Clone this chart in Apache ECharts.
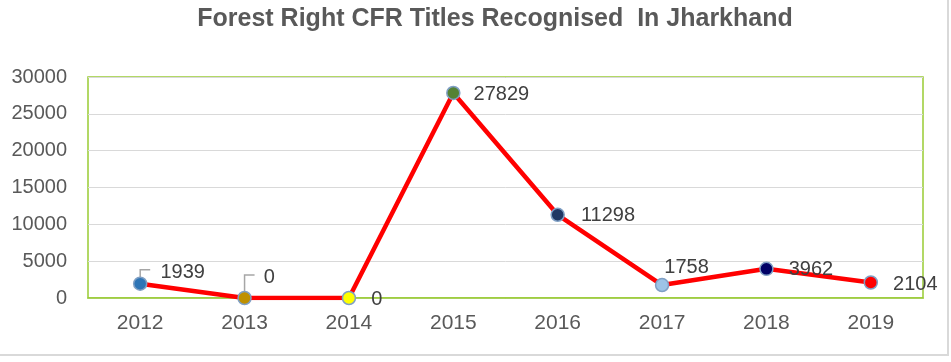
<!DOCTYPE html>
<html><head><meta charset="utf-8">
<script src="https://cdn.jsdelivr.net/npm/echarts@6/dist/echarts.min.js"></script>
<style>html,body{margin:0;padding:0;background:#fff}#c{width:951px;height:362px}</style>
</head><body><div id="c"></div>
<script>
var years = ['2012','2013','2014','2015','2016','2017','2018','2019'];
var cfrTitles = [1939, 0, 0, 27829, 11298, 1758, 3962, 2104];
var yTicks = [0, 5000, 10000, 15000, 20000, 25000, 30000];
var titleText = 'Forest Right CFR Titles Recognised  In Jharkhand';

var markerColors = ['#2e75b6','#bf9000','#ffff00','#548235','#203864','#9dc3e6','#000066','#ff0000'];
var labelShift = [[13,-11],[12,-21],[15,1],[13,1],[16,1],[-5,-18],[15,1],[15,2]];
var leaderRise = [14, 23, 0, 0, 0, 0, 0, 0];

var chart = echarts.init(document.getElementById('c'));
var data = cfrTitles.map(function(v, i){
  return {
    value: v,
    itemStyle: {color: markerColors[i], borderColor: '#7f9fc4', borderWidth: 1.5},
    label: {offset: labelShift[i]}
  };
});
var leaderData = [];
cfrTitles.forEach(function(v, i){ if (leaderRise[i]) leaderData.push([i, v, leaderRise[i]]); });

chart.setOption({
  animation: false,
  backgroundColor: '#fff',
  graphic: [
    {type:'rect', shape:{x:-5,y:-5,width:953,height:360}, style:{fill:'none', stroke:'#d9d9d9', lineWidth:2}, z:-1},
    {type:'text', x:495, y:19, style:{text:titleText, font:'bold 25px "Liberation Sans", Arial, sans-serif', fill:'#595959', textAlign:'center', textVerticalAlign:'middle'}}
  ],
  grid: {left:88, right:28, top:77, bottom:64, show:true, borderColor:'#99cc33', borderWidth:1.5, backgroundColor:'#fff'},
  xAxis: {
    type:'category', data: years, boundaryGap:true,
    axisLine:{lineStyle:{color:'#99cc33', width:1.5}},
    axisTick:{show:false},
    axisLabel:{color:'#595959', fontSize:21, fontFamily:'"Liberation Sans", Arial', margin:15}
  },
  yAxis: {
    type:'value', min: yTicks[0], max: yTicks[yTicks.length-1], interval: yTicks[1]-yTicks[0],
    axisLine:{show:false}, axisTick:{show:false},
    splitLine:{lineStyle:{color:'#d9d9d9', width:1}},
    axisLabel:{color:'#595959', fontSize:20, fontFamily:'"Liberation Sans", Arial', margin:21,
      formatter: function(v){ return String(v); }}
  },
  series: [{
    type:'line', data: data,
    symbol:'circle', symbolSize:13,
    lineStyle:{color:'#ff0000', width:4.5},
    label:{show:true, position:'right', distance:0, color:'#404040', fontSize:20, fontFamily:'"Liberation Sans", Arial'},
    z: 3
  },{
    type:'custom', data: leaderData, z: 2, silent: true,
    renderItem: function(params, api){
      var p = api.coord([api.value(0), api.value(1)]);
      var r = api.value(2);
      return {type:'polyline', shape:{points:[[p[0], p[1]-6],[p[0], p[1]-r],[p[0]+10, p[1]-r]]},
        style:{stroke:'#a6a6a6', lineWidth:1.5, fill:'none'}};
    }
  }]
});
</script></body></html>
